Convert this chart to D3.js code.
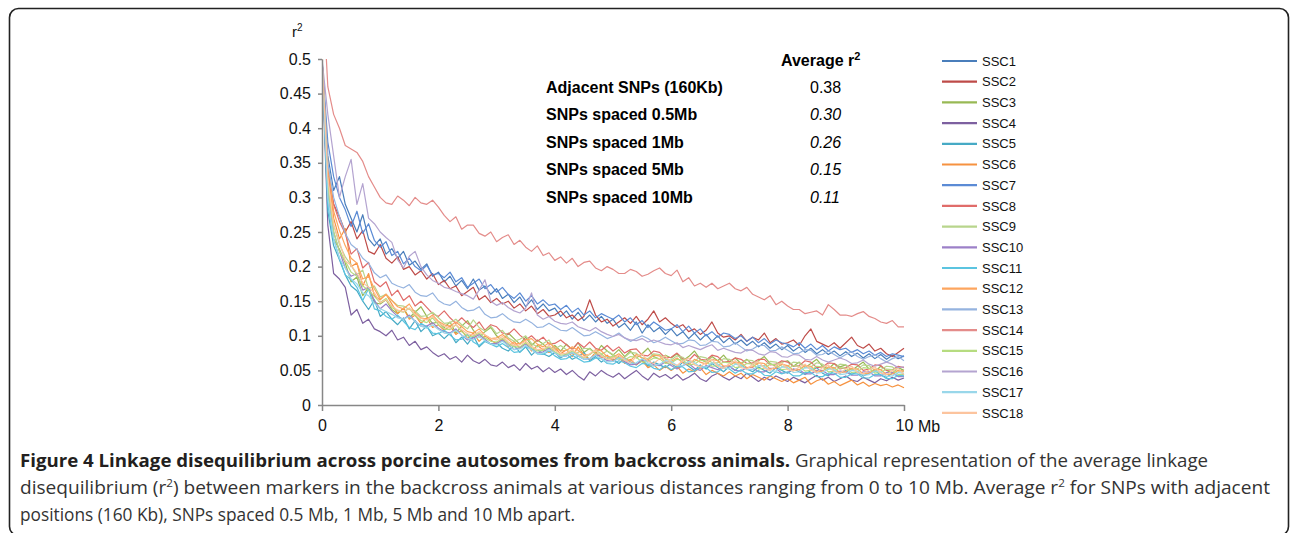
<!DOCTYPE html>
<html>
<head>
<meta charset="utf-8">
<script src="https://cdn.jsdelivr.net/npm/d3@7"></script>
<style>
  body { margin: 0; background: #fff; }
  svg { display: block; }
</style>
</head>
<body>
<div id="chart"></div>
<script>
// distance between markers (Mb)
var distances = [
  0.0, 0.1, 0.2, 0.3, 0.4, 0.5, 0.6, 0.7, 0.8, 0.9,
  1.0, 1.1, 1.2, 1.3, 1.4, 1.5, 1.6, 1.7, 1.8, 1.9,
  2.0, 2.1, 2.2, 2.3, 2.4, 2.5, 2.6, 2.7, 2.8, 2.9,
  3.0, 3.1, 3.2, 3.3, 3.4, 3.5, 3.6, 3.7, 3.8, 3.9,
  4.0, 4.1, 4.2, 4.3, 4.4, 4.5, 4.6, 4.7, 4.8, 4.9,
  5.0, 5.1, 5.2, 5.3, 5.4, 5.5, 5.6, 5.7, 5.8, 5.9,
  6.0, 6.1, 6.2, 6.3, 6.4, 6.5, 6.6, 6.7, 6.8, 6.9,
  7.0, 7.1, 7.2, 7.3, 7.4, 7.5, 7.6, 7.7, 7.8, 7.9,
  8.0, 8.1, 8.2, 8.3, 8.4, 8.5, 8.6, 8.7, 8.8, 8.9,
  9.0, 9.1, 9.2, 9.3, 9.4, 9.5, 9.6, 9.7, 9.8, 9.9,
  10.0];

// average r2 per chromosome, one row per Mb
var ssc1 = [
  0.50,0.36,0.31,0.33,0.29,0.27,0.25,0.275,0.24,0.23,
  0.24,0.218,0.226,0.212,0.222,0.202,0.208,0.196,0.204,0.186,
  0.192,0.178,0.186,0.172,0.18,0.168,0.182,0.166,0.172,0.16,
  0.168,0.154,0.16,0.148,0.156,0.142,0.152,0.138,0.146,0.136,
  0.14,0.128,0.136,0.124,0.134,0.122,0.13,0.12,0.128,0.118,
  0.124,0.112,0.118,0.108,0.12,0.104,0.116,0.106,0.112,0.102,
  0.11,0.1,0.106,0.096,0.104,0.094,0.102,0.092,0.1,0.09,
  0.097,0.088,0.094,0.086,0.092,0.084,0.09,0.082,0.088,0.08,
  0.086,0.078,0.084,0.076,0.082,0.074,0.08,0.073,0.078,0.071,
  0.077,0.07,0.075,0.068,0.074,0.067,0.073,0.066,0.072,0.067,
  0.071];
var ssc2 = [
  0.50,0.34,0.29,0.272,0.25,0.265,0.24,0.252,0.222,0.218,
  0.232,0.212,0.205,0.214,0.196,0.2,0.188,0.194,0.182,0.19,
  0.174,0.18,0.168,0.172,0.158,0.164,0.17,0.152,0.158,0.148,
  0.154,0.146,0.15,0.14,0.146,0.136,0.143,0.132,0.138,0.128,
  0.13,0.136,0.126,0.13,0.122,0.128,0.152,0.13,0.12,0.124,
  0.114,0.12,0.126,0.118,0.128,0.116,0.124,0.136,0.12,0.126,
  0.118,0.112,0.116,0.106,0.11,0.102,0.108,0.12,0.104,0.098,
  0.1,0.094,0.102,0.092,0.098,0.094,0.104,0.09,0.096,0.088,
  0.09,0.094,0.086,0.1,0.11,0.092,0.088,0.084,0.09,0.082,
  0.09,0.098,0.086,0.082,0.088,0.078,0.082,0.074,0.07,0.076,
  0.082];
var ssc3 = [
  0.50,0.30,0.24,0.225,0.205,0.178,0.185,0.158,0.17,0.148,
  0.146,0.152,0.138,0.132,0.14,0.126,0.134,0.142,0.128,0.118,
  0.12,0.112,0.12,0.104,0.114,0.122,0.108,0.098,0.106,0.112,
  0.1,0.092,0.104,0.096,0.088,0.098,0.086,0.094,0.088,0.08,
  0.086,0.078,0.088,0.08,0.09,0.076,0.082,0.074,0.086,0.078,
  0.072,0.08,0.07,0.078,0.068,0.074,0.082,0.07,0.066,0.072,
  0.068,0.074,0.064,0.07,0.078,0.066,0.062,0.07,0.064,0.072,
  0.062,0.068,0.06,0.066,0.058,0.064,0.07,0.06,0.056,0.062,
  0.064,0.056,0.062,0.054,0.06,0.066,0.056,0.052,0.06,0.055,
  0.058,0.05,0.056,0.062,0.052,0.048,0.056,0.05,0.046,0.054,
  0.05];
var ssc4 = [
  0.50,0.26,0.19,0.182,0.17,0.13,0.138,0.118,0.124,0.11,
  0.106,0.1,0.108,0.094,0.098,0.086,0.092,0.08,0.084,0.076,
  0.07,0.074,0.066,0.07,0.062,0.072,0.064,0.06,0.066,0.058,
  0.056,0.062,0.054,0.058,0.05,0.06,0.052,0.056,0.048,0.054,
  0.047,0.052,0.044,0.05,0.042,0.036,0.048,0.042,0.05,0.044,
  0.04,0.046,0.038,0.044,0.05,0.042,0.036,0.046,0.04,0.044,
  0.038,0.044,0.036,0.04,0.046,0.038,0.034,0.042,0.046,0.04,
  0.036,0.042,0.038,0.046,0.04,0.034,0.04,0.036,0.042,0.038,
  0.034,0.04,0.036,0.032,0.038,0.043,0.036,0.04,0.034,0.038,
  0.042,0.036,0.034,0.04,0.036,0.032,0.038,0.035,0.04,0.036,
  0.039];
var ssc5 = [
  0.50,0.28,0.23,0.21,0.188,0.172,0.165,0.15,0.138,0.152,
  0.128,0.135,0.124,0.116,0.126,0.11,0.122,0.106,0.114,0.1,
  0.104,0.096,0.104,0.09,0.098,0.088,0.1,0.084,0.092,0.088,
  0.09,0.082,0.078,0.086,0.076,0.084,0.072,0.08,0.074,0.07,
  0.076,0.068,0.074,0.066,0.07,0.076,0.064,0.07,0.062,0.068,
  0.066,0.06,0.068,0.062,0.058,0.066,0.056,0.062,0.058,0.054,
  0.06,0.054,0.062,0.056,0.05,0.058,0.052,0.06,0.054,0.048,
  0.056,0.05,0.058,0.052,0.048,0.055,0.05,0.046,0.054,0.05,
  0.046,0.052,0.048,0.044,0.05,0.054,0.046,0.042,0.05,0.046,
  0.05,0.044,0.048,0.042,0.046,0.05,0.043,0.04,0.046,0.042,
  0.044];
var ssc6 = [
  0.50,0.34,0.27,0.24,0.255,0.2,0.205,0.172,0.19,0.158,
  0.152,0.16,0.146,0.132,0.14,0.124,0.13,0.118,0.126,0.112,
  0.116,0.108,0.114,0.102,0.108,0.096,0.104,0.092,0.1,0.094,
  0.088,0.096,0.084,0.092,0.082,0.09,0.078,0.086,0.08,0.076,
  0.082,0.074,0.08,0.07,0.084,0.072,0.066,0.076,0.068,0.072,
  0.064,0.07,0.06,0.066,0.058,0.064,0.054,0.058,0.05,0.056,
  0.05,0.056,0.046,0.052,0.048,0.054,0.044,0.05,0.046,0.042,
  0.048,0.042,0.046,0.038,0.044,0.04,0.036,0.042,0.038,0.034,
  0.038,0.032,0.036,0.04,0.03,0.035,0.038,0.03,0.034,0.028,
  0.032,0.036,0.029,0.033,0.027,0.031,0.028,0.03,0.026,0.029,
  0.025];
var ssc7 = [
  0.50,0.38,0.33,0.3,0.282,0.258,0.28,0.248,0.262,0.238,
  0.228,0.236,0.216,0.222,0.204,0.212,0.2,0.194,0.202,0.188,
  0.19,0.184,0.192,0.178,0.184,0.17,0.176,0.182,0.168,0.174,
  0.163,0.17,0.16,0.154,0.162,0.15,0.158,0.146,0.152,0.144,
  0.146,0.138,0.144,0.134,0.14,0.13,0.136,0.126,0.132,0.128,
  0.124,0.13,0.12,0.126,0.116,0.122,0.112,0.12,0.114,0.108,
  0.11,0.116,0.106,0.114,0.104,0.11,0.1,0.106,0.098,0.104,
  0.102,0.096,0.1,0.092,0.098,0.09,0.096,0.088,0.094,0.09,
  0.088,0.084,0.09,0.082,0.088,0.08,0.086,0.078,0.084,0.08,
  0.082,0.076,0.08,0.074,0.078,0.072,0.076,0.07,0.074,0.072,
  0.07];
var ssc8 = [
  0.50,0.33,0.29,0.265,0.248,0.218,0.226,0.198,0.206,0.178,
  0.171,0.178,0.158,0.166,0.151,0.158,0.143,0.15,0.141,0.132,
  0.128,0.136,0.126,0.118,0.126,0.118,0.112,0.12,0.108,0.116,
  0.113,0.104,0.102,0.11,0.101,0.094,0.1,0.092,0.098,0.088,
  0.089,0.094,0.087,0.08,0.09,0.083,0.091,0.082,0.079,0.086,
  0.078,0.084,0.075,0.08,0.081,0.072,0.071,0.078,0.076,0.068,
  0.069,0.075,0.067,0.064,0.073,0.066,0.065,0.072,0.07,0.062,
  0.063,0.068,0.066,0.06,0.061,0.066,0.066,0.058,0.059,0.064,
  0.062,0.056,0.057,0.064,0.062,0.054,0.055,0.061,0.06,0.052,
  0.054,0.059,0.058,0.05,0.052,0.058,0.057,0.05,0.051,0.056,
  0.054];
var ssc9 = [
  0.50,0.31,0.26,0.232,0.214,0.202,0.188,0.195,0.168,0.172,
  0.156,0.16,0.151,0.144,0.143,0.138,0.136,0.128,0.129,0.134,
  0.126,0.118,0.119,0.124,0.116,0.11,0.123,0.112,0.107,0.114,
  0.103,0.108,0.097,0.092,0.095,0.1,0.089,0.084,0.089,0.094,
  0.081,0.086,0.08,0.074,0.076,0.082,0.081,0.074,0.073,0.078,
  0.073,0.068,0.069,0.076,0.075,0.068,0.067,0.074,0.073,0.066,
  0.065,0.071,0.069,0.062,0.063,0.07,0.068,0.061,0.061,0.067,
  0.066,0.06,0.059,0.065,0.064,0.057,0.057,0.063,0.062,0.056,
  0.056,0.062,0.061,0.054,0.055,0.061,0.059,0.053,0.053,0.059,
  0.058,0.051,0.052,0.058,0.057,0.05,0.051,0.056,0.055,0.049,
  0.049];
var ssc10 = [
  0.50,0.3,0.25,0.222,0.198,0.186,0.19,0.166,0.17,0.151,
  0.139,0.146,0.136,0.128,0.124,0.13,0.121,0.114,0.114,0.119,
  0.111,0.106,0.104,0.11,0.101,0.094,0.097,0.102,0.095,0.088,
  0.089,0.094,0.087,0.08,0.083,0.088,0.081,0.075,0.077,0.082,
  0.075,0.07,0.071,0.076,0.071,0.066,0.067,0.072,0.071,0.064,
  0.063,0.068,0.063,0.058,0.059,0.064,0.065,0.058,0.057,0.062,
  0.057,0.052,0.057,0.06,0.053,0.05,0.057,0.054,0.051,0.056,
  0.056,0.05,0.049,0.054,0.054,0.048,0.048,0.053,0.053,0.046,
  0.047,0.052,0.051,0.045,0.045,0.05,0.05,0.044,0.044,0.049,
  0.048,0.043,0.043,0.048,0.048,0.042,0.042,0.047,0.047,0.041,
  0.041];
var ssc11 = [
  0.50,0.29,0.24,0.212,0.188,0.181,0.17,0.151,0.168,0.139,
  0.136,0.128,0.124,0.13,0.121,0.112,0.109,0.118,0.113,0.104,
  0.103,0.108,0.101,0.094,0.095,0.102,0.091,0.086,0.093,0.088,
  0.084,0.089,0.083,0.076,0.077,0.084,0.081,0.074,0.073,0.078,
  0.071,0.066,0.067,0.072,0.067,0.062,0.063,0.068,0.067,0.06,
  0.059,0.064,0.061,0.056,0.054,0.06,0.059,0.053,0.051,0.057,
  0.051,0.056,0.055,0.048,0.049,0.055,0.054,0.047,0.048,0.054,
  0.052,0.046,0.051,0.045,0.045,0.05,0.043,0.042,0.048,0.045,
  0.048,0.042,0.042,0.047,0.047,0.041,0.041,0.046,0.046,0.04,
  0.04,0.045,0.045,0.039,0.039,0.044,0.044,0.038,0.038,0.043,
  0.042];
var ssc12 = [
  0.50,0.35,0.28,0.252,0.23,0.212,0.205,0.182,0.186,0.168,
  0.153,0.16,0.151,0.142,0.139,0.146,0.133,0.126,0.124,0.13,
  0.121,0.116,0.114,0.12,0.113,0.106,0.104,0.11,0.101,0.096,
  0.097,0.102,0.095,0.088,0.089,0.094,0.096,0.088,0.084,0.09,
  0.083,0.078,0.079,0.084,0.079,0.072,0.073,0.08,0.078,0.07,
  0.069,0.074,0.067,0.064,0.073,0.068,0.065,0.072,0.071,0.062,
  0.063,0.068,0.061,0.058,0.066,0.062,0.059,0.066,0.064,0.056,
  0.057,0.062,0.061,0.054,0.055,0.061,0.06,0.052,0.053,0.059,
  0.057,0.05,0.051,0.057,0.056,0.048,0.049,0.055,0.054,0.047,
  0.048,0.053,0.052,0.045,0.046,0.052,0.051,0.044,0.045,0.05,
  0.049];
var ssc13 = [
  0.50,0.35,0.3,0.272,0.248,0.232,0.225,0.212,0.205,0.191,
  0.184,0.188,0.176,0.172,0.169,0.174,0.163,0.158,0.157,0.162,
  0.151,0.146,0.144,0.15,0.141,0.136,0.137,0.142,0.131,0.126,
  0.127,0.132,0.125,0.12,0.119,0.124,0.119,0.112,0.113,0.118,
  0.113,0.108,0.107,0.112,0.106,0.1,0.101,0.106,0.101,0.096,
  0.099,0.104,0.097,0.092,0.096,0.1,0.096,0.09,0.093,0.098,
  0.093,0.088,0.089,0.094,0.093,0.086,0.087,0.092,0.091,0.084,
  0.085,0.09,0.084,0.078,0.081,0.086,0.086,0.078,0.079,0.084,
  0.079,0.074,0.075,0.08,0.079,0.072,0.073,0.078,0.073,0.068,
  0.073,0.077,0.07,0.066,0.07,0.073,0.067,0.062,0.067,0.07,
  0.064];
var ssc14 = [
  0.62,0.46,0.42,0.4,0.375,0.37,0.365,0.352,0.33,0.315,
  0.3,0.292,0.29,0.302,0.296,0.288,0.3,0.292,0.29,0.296,
  0.286,0.274,0.265,0.272,0.254,0.26,0.26,0.248,0.244,0.25,
  0.236,0.242,0.246,0.232,0.238,0.228,0.222,0.23,0.216,0.22,
  0.209,0.214,0.205,0.212,0.2,0.206,0.208,0.198,0.194,0.2,
  0.196,0.19,0.19,0.196,0.193,0.186,0.189,0.194,0.198,0.19,
  0.187,0.195,0.178,0.184,0.172,0.176,0.17,0.176,0.168,0.172,
  0.176,0.168,0.165,0.17,0.16,0.156,0.152,0.158,0.145,0.15,
  0.143,0.138,0.138,0.132,0.134,0.136,0.13,0.145,0.138,0.13,
  0.13,0.128,0.132,0.135,0.128,0.125,0.12,0.118,0.122,0.113,
  0.113];
var ssc15 = [
  0.50,0.32,0.25,0.222,0.208,0.192,0.186,0.172,0.166,0.157,
  0.148,0.154,0.141,0.136,0.134,0.14,0.129,0.122,0.119,0.126,
  0.116,0.11,0.109,0.116,0.106,0.1,0.099,0.104,0.097,0.092,
  0.091,0.096,0.089,0.084,0.084,0.09,0.083,0.078,0.079,0.084,
  0.077,0.072,0.073,0.078,0.073,0.068,0.073,0.079,0.074,0.066,
  0.071,0.066,0.065,0.07,0.069,0.062,0.063,0.068,0.067,0.06,
  0.061,0.066,0.065,0.058,0.059,0.065,0.063,0.056,0.057,0.062,
  0.061,0.054,0.055,0.06,0.059,0.052,0.053,0.059,0.058,0.051,
  0.052,0.057,0.056,0.049,0.05,0.056,0.055,0.048,0.049,0.054,
  0.053,0.047,0.048,0.054,0.053,0.046,0.047,0.052,0.051,0.044,
  0.045];
var ssc16 = [
  0.50,0.42,0.36,0.3,0.33,0.355,0.29,0.32,0.27,0.262,
  0.25,0.242,0.235,0.21,0.198,0.215,0.222,0.2,0.188,0.18,
  0.176,0.17,0.168,0.164,0.161,0.158,0.153,0.166,0.181,0.15,
  0.144,0.148,0.141,0.136,0.133,0.14,0.162,0.13,0.124,0.128,
  0.121,0.118,0.117,0.12,0.113,0.11,0.107,0.112,0.106,0.102,
  0.099,0.102,0.097,0.094,0.093,0.096,0.091,0.094,0.091,0.088,
  0.087,0.09,0.083,0.086,0.083,0.08,0.084,0.087,0.079,0.082,
  0.079,0.076,0.075,0.08,0.079,0.074,0.072,0.077,0.076,0.07,
  0.069,0.073,0.072,0.066,0.065,0.07,0.065,0.062,0.065,0.068,
  0.065,0.06,0.061,0.065,0.059,0.056,0.059,0.062,0.059,0.054,
  0.055];
var ssc17 = [
  0.50,0.3,0.24,0.212,0.198,0.182,0.175,0.162,0.158,0.147,
  0.139,0.135,0.131,0.126,0.124,0.128,0.121,0.114,0.111,0.116,
  0.109,0.104,0.103,0.108,0.101,0.096,0.094,0.099,0.093,0.088,
  0.087,0.092,0.086,0.08,0.081,0.086,0.08,0.074,0.075,0.08,
  0.075,0.07,0.071,0.076,0.071,0.066,0.067,0.072,0.067,0.062,
  0.063,0.068,0.067,0.06,0.061,0.067,0.061,0.056,0.059,0.064,
  0.063,0.057,0.057,0.063,0.061,0.055,0.055,0.061,0.059,0.053,
  0.053,0.059,0.057,0.051,0.051,0.057,0.056,0.049,0.049,0.055,
  0.054,0.047,0.048,0.054,0.053,0.046,0.047,0.052,0.051,0.044,
  0.045,0.05,0.049,0.043,0.044,0.049,0.048,0.041,0.042,0.047,
  0.046];
var ssc18 = [
  0.50,0.33,0.26,0.236,0.208,0.202,0.19,0.177,0.17,0.162,
  0.148,0.152,0.143,0.137,0.135,0.14,0.131,0.125,0.123,0.128,
  0.119,0.114,0.111,0.116,0.109,0.103,0.101,0.106,0.101,0.096,
  0.094,0.099,0.091,0.086,0.087,0.092,0.085,0.08,0.081,0.086,
  0.079,0.074,0.075,0.08,0.074,0.069,0.074,0.079,0.071,0.066,
  0.067,0.072,0.065,0.061,0.07,0.074,0.063,0.06,0.067,0.071,
  0.06,0.057,0.064,0.068,0.058,0.055,0.062,0.066,0.056,0.053,
  0.06,0.064,0.054,0.052,0.059,0.063,0.053,0.05,0.057,0.061,
  0.051,0.049,0.055,0.059,0.05,0.047,0.054,0.058,0.048,0.046,
  0.052,0.056,0.047,0.045,0.051,0.055,0.046,0.044,0.049,0.053,
  0.044];

var seriesNames = ["SSC1", "SSC2", "SSC3", "SSC4", "SSC5", "SSC6", "SSC7", "SSC8", "SSC9",
  "SSC10", "SSC11", "SSC12", "SSC13", "SSC14", "SSC15", "SSC16", "SSC17", "SSC18"];
var seriesValues = [ssc1, ssc2, ssc3, ssc4, ssc5, ssc6, ssc7, ssc8, ssc9,
  ssc10, ssc11, ssc12, ssc13, ssc14, ssc15, ssc16, ssc17, ssc18];
var colors = ["#4a7ebb", "#be4b48", "#98b954", "#7d60a0", "#46aac5", "#f69240",
  "#5b8bd5", "#e06c6a", "#b8d58c", "#9c80c8", "#5bc4e0", "#fda55e",
  "#95b3df", "#e48c8a", "#b6dc80", "#b4a4d0", "#99d7ea", "#fcc49e"];

var yTicks = [0, 0.05, 0.1, 0.15, 0.2, 0.25, 0.3, 0.35, 0.4, 0.45, 0.5];
var xTicks = [0, 2, 4, 6, 8, 10];

// inset table
var tableLabels = ["Adjacent SNPs (160Kb)", "SNPs spaced 0.5Mb", "SNPs spaced 1Mb",
  "SNPs spaced 5Mb", "SNPs spaced 10Mb"];
var tableValues = ["0.38", "0.30", "0.26", "0.15", "0.11"];

var W = 1290, H = 533;
var margin = {top: 59, right: 386, bottom: 128, left: 322},
    width = W - margin.left - margin.right,
    height = H - margin.top - margin.bottom;

var svg = d3.select("#chart")
    .append("svg")
    .attr("width", W)
    .attr("height", H);

// rounded frame
svg.append("rect")
    .attr("x", 9.5).attr("y", 8.5)
    .attr("width", 1279).attr("height", 527)
    .attr("rx", 9)
    .attr("fill", "none")
    .attr("stroke", "#222")
    .attr("stroke-width", 1.6);

var g = svg.append("g")
    .attr("transform", "translate(" + margin.left + "," + margin.top + ")");

var x = d3.scaleLinear().domain([0, 10]).range([0, width]);
var y = d3.scaleLinear().domain([0, 0.5]).range([height, 0]);

g.append("clipPath").attr("id", "plotclip")
    .append("rect")
    .attr("x", 0).attr("y", 0)
    .attr("width", width + 1).attr("height", height);

var line = d3.line()
    .x(function(d, i) { return x(distances[i]); })
    .y(function(d) { return y(d); });

var lines = g.append("g").attr("clip-path", "url(#plotclip)");
seriesValues.forEach(function(vals, k) {
    lines.append("path")
        .datum(vals)
        .attr("d", line)
        .attr("fill", "none")
        .attr("stroke", colors[k])
        .attr("stroke-width", 1.2)
        .attr("stroke-linejoin", "round");
});

// axes
var yAxis = g.append("g")
    .call(d3.axisLeft(y).tickValues(yTicks).tickSize(4).tickSizeOuter(0).tickPadding(7)
        .tickFormat(function(d) { return String(d); }));
var xAxis = g.append("g")
    .attr("transform", "translate(0," + height + ")")
    .call(d3.axisBottom(x).tickValues(xTicks).tickSize(6).tickSizeOuter(0).tickPadding(9));

[yAxis, xAxis].forEach(function(a) {
    a.select(".domain").attr("stroke", "#878787").attr("stroke-width", 1.5);
    a.selectAll(".tick line").attr("stroke", "#878787").attr("stroke-width", 1.5);
    a.selectAll("text")
        .attr("fill", "#111")
        .style("font-family", "'Liberation Sans', Arial, sans-serif")
        .style("font-size", "16px");
});

g.append("text")
    .attr("x", width + 14).attr("y", height + 27)
    .style("font-family", "'Liberation Sans', Arial, sans-serif")
    .style("font-size", "16px")
    .attr("fill", "#111")
    .text("Mb");

var rLab = svg.append("text")
    .attr("x", 292).attr("y", 37)
    .style("font-family", "'Liberation Sans', Arial, sans-serif")
    .style("font-size", "15px")
    .attr("fill", "#111");
rLab.append("tspan").text("r");
rLab.append("tspan").attr("dy", -6).style("font-size", "10px").text("2");

// inset table
var tbl = svg.append("g")
    .style("font-family", "'Liberation Sans', Arial, sans-serif")
    .style("font-size", "16px")
    .attr("fill", "#000");
var head = tbl.append("text").attr("x", 781).attr("y", 66).style("font-weight", "bold");
head.append("tspan").text("Average r");
head.append("tspan").attr("dy", -6).style("font-size", "11px").text("2");

tableLabels.forEach(function(lbl, i) {
    var by = 92.5 + i * 27.6;
    tbl.append("text").attr("x", 546).attr("y", by)
        .style("font-weight", "bold").text(lbl);
    tbl.append("text").attr("x", 810).attr("y", by)
        .style("font-style", i === 0 ? "normal" : "italic").text(tableValues[i]);
});

// legend
var legend = svg.append("g")
    .selectAll("g")
    .data(seriesNames)
    .enter().append("g")
    .attr("transform", function(d, i) { return "translate(942," + (61 + i * 20.7) + ")"; });
legend.append("line")
    .attr("x1", 0).attr("x2", 35)
    .attr("stroke", function(d, i) { return colors[i]; })
    .attr("stroke-width", 2.2);
legend.append("text")
    .attr("x", 40).attr("dy", "0.36em")
    .style("font-family", "'Liberation Sans', Arial, sans-serif")
    .style("font-size", "13px")
    .attr("fill", "#111")
    .text(function(d) { return d; });

// caption
var capFont = "'Liberation Sans Narrow', 'Open Sans', sans-serif";
var cap1 = svg.append("text").attr("x", 20).attr("y", 467)
    .style("font-family", capFont).style("font-size", "18px").attr("fill", "#231f20")
    .attr("textLength", 1188).attr("lengthAdjust", "spacingAndGlyphs");
cap1.append("tspan").style("font-weight", "bold")
    .text("Figure 4 Linkage disequilibrium across porcine autosomes from backcross animals.");
cap1.append("tspan").attr("fill", "#333")
    .text(" Graphical representation of the average linkage");

var cap2 = svg.append("text").attr("x", 20).attr("y", 494)
    .style("font-family", capFont).style("font-size", "18px").attr("fill", "#333")
    .attr("textLength", 1250).attr("lengthAdjust", "spacingAndGlyphs");
cap2.append("tspan").text("disequilibrium (r");
cap2.append("tspan").attr("dy", -7).style("font-size", "11px").text("2");
cap2.append("tspan").attr("dy", 7).text(") between markers in the backcross animals at various distances ranging from 0 to 10 Mb. Average r");
cap2.append("tspan").attr("dy", -7).style("font-size", "11px").text("2");
cap2.append("tspan").attr("dy", 7).text(" for SNPs with adjacent");

svg.append("text").attr("x", 20).attr("y", 521)
    .style("font-family", capFont).style("font-size", "18px").attr("fill", "#333")
    .attr("textLength", 555).attr("lengthAdjust", "spacingAndGlyphs")
    .text("positions (160 Kb), SNPs spaced 0.5 Mb, 1 Mb, 5 Mb and 10 Mb apart.");
</script>
</body>
</html>
